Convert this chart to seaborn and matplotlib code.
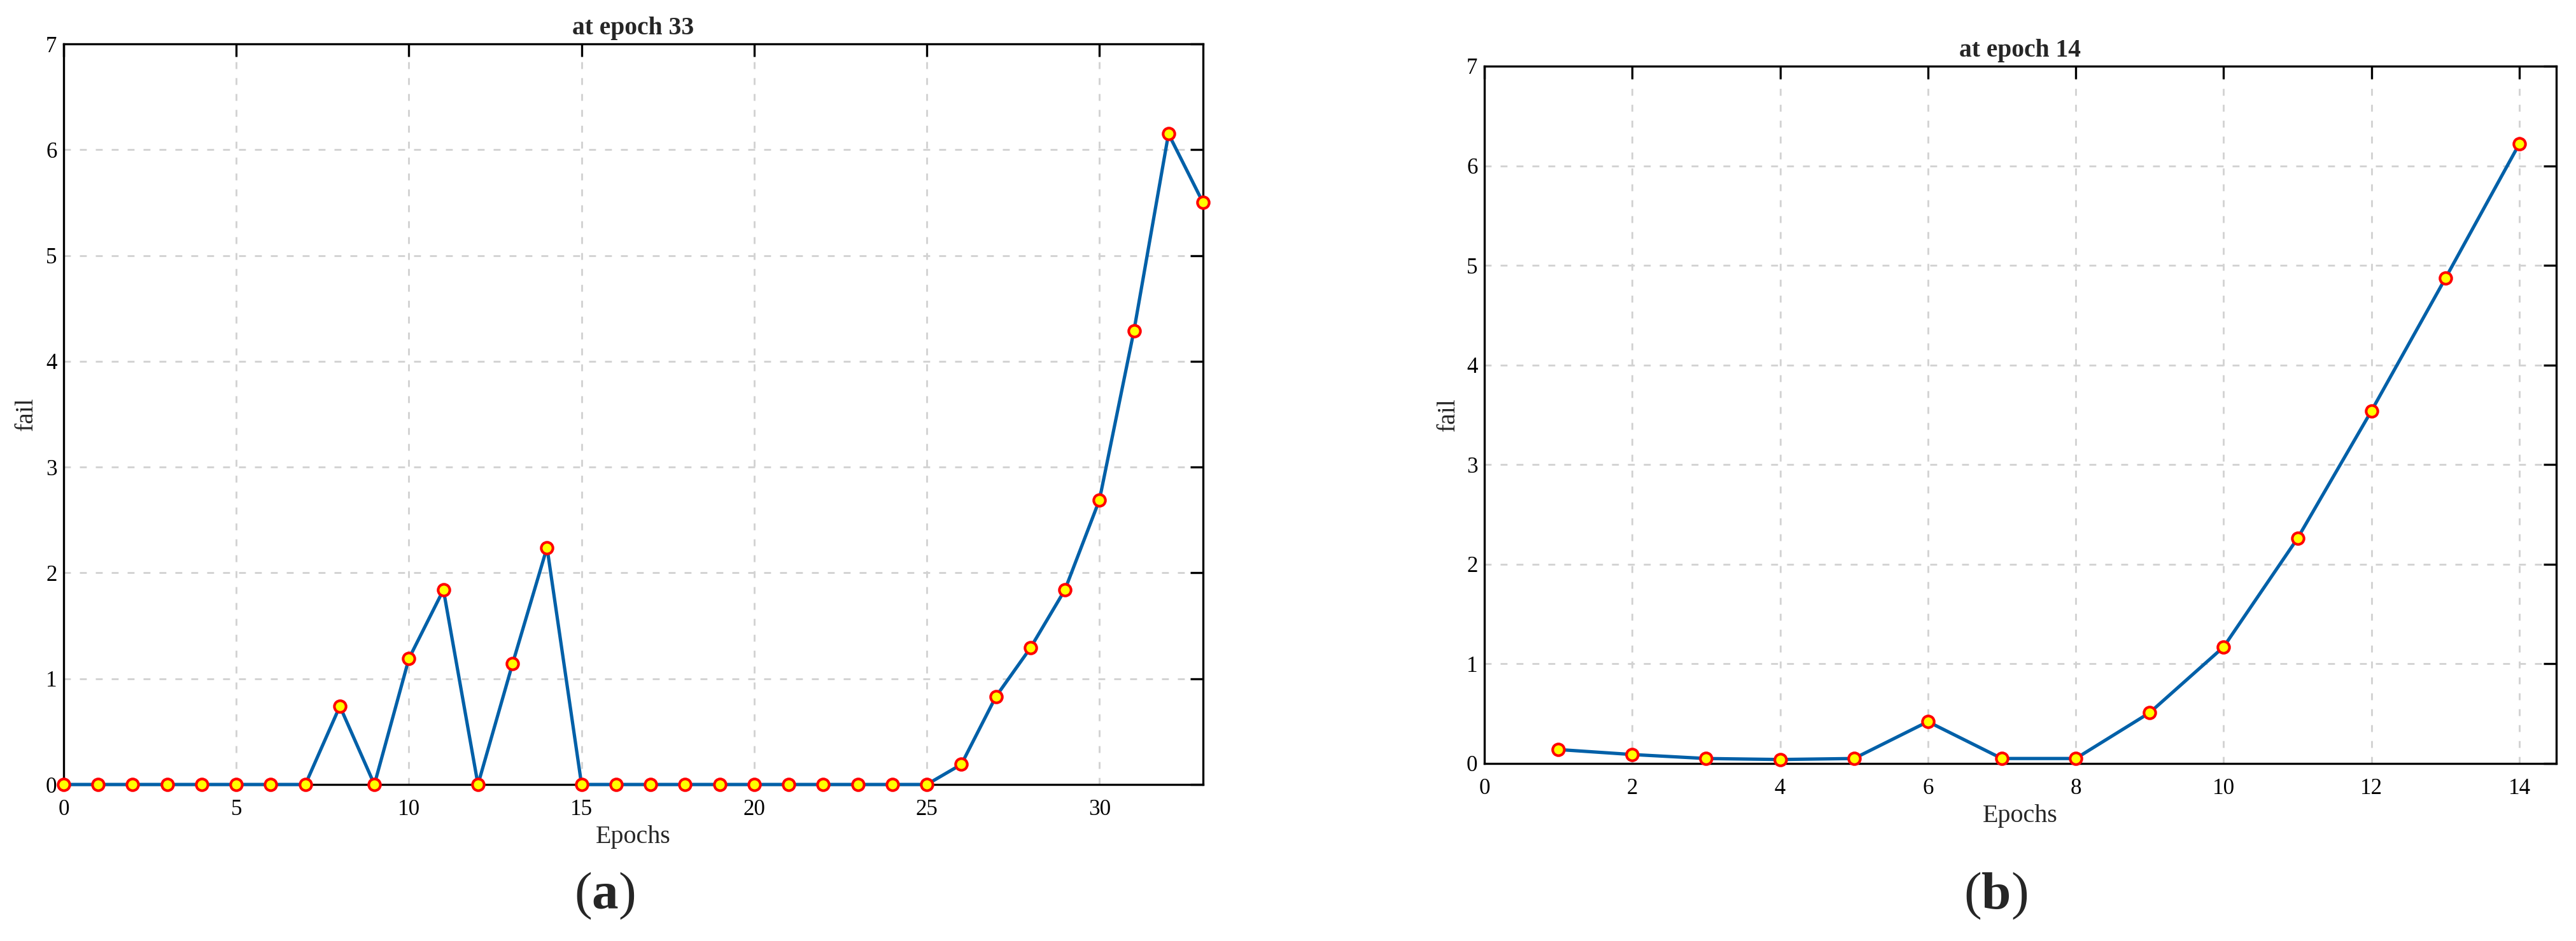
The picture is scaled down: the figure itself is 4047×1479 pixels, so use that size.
"""Training 'fail' curves for two runs, MATLAB-style boxed axes."""
import numpy as np
import pandas as pd
import matplotlib
matplotlib.use("Agg")
import matplotlib.pyplot as plt
import seaborn as sns

# run (a): stopped at epoch 33
epochs_a = list(range(0, 34))
fail_a = [0, 0, 0, 0, 0, 0, 0, 0, 0.74, 0, 1.19, 1.84, 0, 1.14, 2.24,
          0, 0, 0, 0, 0, 0, 0, 0, 0, 0, 0,
          0.19, 0.83, 1.29, 1.84, 2.69, 4.29, 6.15, 5.50]
title_a = "at epoch 33"
xticks_a = [0, 5, 10, 15, 20, 25, 30]

# run (b): stopped at epoch 14
epochs_b = list(range(1, 15))
fail_b = [0.14, 0.09, 0.05, 0.04, 0.05, 0.42, 0.05, 0.05, 0.51, 1.17,
          2.26, 3.54, 4.87, 6.22]
title_b = "at epoch 14"
xticks_b = [0, 2, 4, 6, 8, 10, 12, 14]

yticks = [0, 1, 2, 3, 4, 5, 6, 7]

sns.set_style("white")
plt.rcParams["font.family"] = ["Liberation Serif", "DejaVu Serif"]
plt.rcParams["mathtext.fontset"] = "custom"
plt.rcParams["mathtext.rm"] = "Liberation Serif"
plt.rcParams["mathtext.bf"] = "Liberation Serif:bold"
plt.rcParams["lines.scale_dashes"] = False

fig = plt.figure(figsize=(4047 / 300, 1479 / 300), dpi=300)
W, H = 4047, 1479


def px_axes(x0, y0, x1, y1):
    return fig.add_axes([x0 / W, 1 - y1 / H, (x1 - x0) / W, (y1 - y0) / H])


ax_a = px_axes(100, 69, 1890, 1233)
ax_b = px_axes(2332, 104, 4016, 1200)

panels = [
    (ax_a, epochs_a, fail_a, title_a, xticks_a, (0, 33), 3.0),
    (ax_b, epochs_b, fail_b, title_b, xticks_b, (0, 14.5), 2.5),
]

for ax, xs, ys, title, xt, xlim, ylpad in panels:
    df = pd.DataFrame({"Epochs": xs, "fail": ys})
    sns.lineplot(data=df, x="Epochs", y="fail", ax=ax, color="#0060A8",
                 linewidth=1.25, marker="o", markersize=4.4,
                 markerfacecolor="#FFFF00", markeredgecolor="#FF0000",
                 markeredgewidth=1.0, zorder=3)
    for ln in ax.lines:
        ln.set_clip_on(False)
    ax.set_xlim(*xlim)
    ax.set_ylim(0, 7)
    ax.set_xticks(xt)
    ax.set_yticks(yticks)
    ax.grid(True, linestyle=(0, (2.6, 3.4)), color="#d3d3d3", linewidth=0.7)
    ax.set_axisbelow(True)
    for sp in ax.spines.values():
        sp.set_visible(True)
        sp.set_color("black")
        sp.set_linewidth(0.8)
    ax.tick_params(axis="both", direction="in", length=4.8, width=0.8,
                   top=True, right=True, labelsize=8.4, colors="black")
    ax.tick_params(axis="x", pad=5.5)
    ax.tick_params(axis="y", pad=2.5)
    ax.set_title(title, fontsize=9.5, fontweight="bold", pad=3.5)
    ax.set_xlabel("Epochs", fontsize=9.6, labelpad=2)
    ax.set_ylabel("fail", fontsize=9.5, labelpad=ylpad)

fig.text(950 / W, 1 - 1428 / H, r"($\mathbf{a}$)", fontsize=20,
         ha="center", va="baseline")
fig.text(3135 / W, 1 - 1428 / H, r"($\mathbf{b}$)", fontsize=20,
         ha="center", va="baseline")

fig.savefig("out.png", dpi=300)
